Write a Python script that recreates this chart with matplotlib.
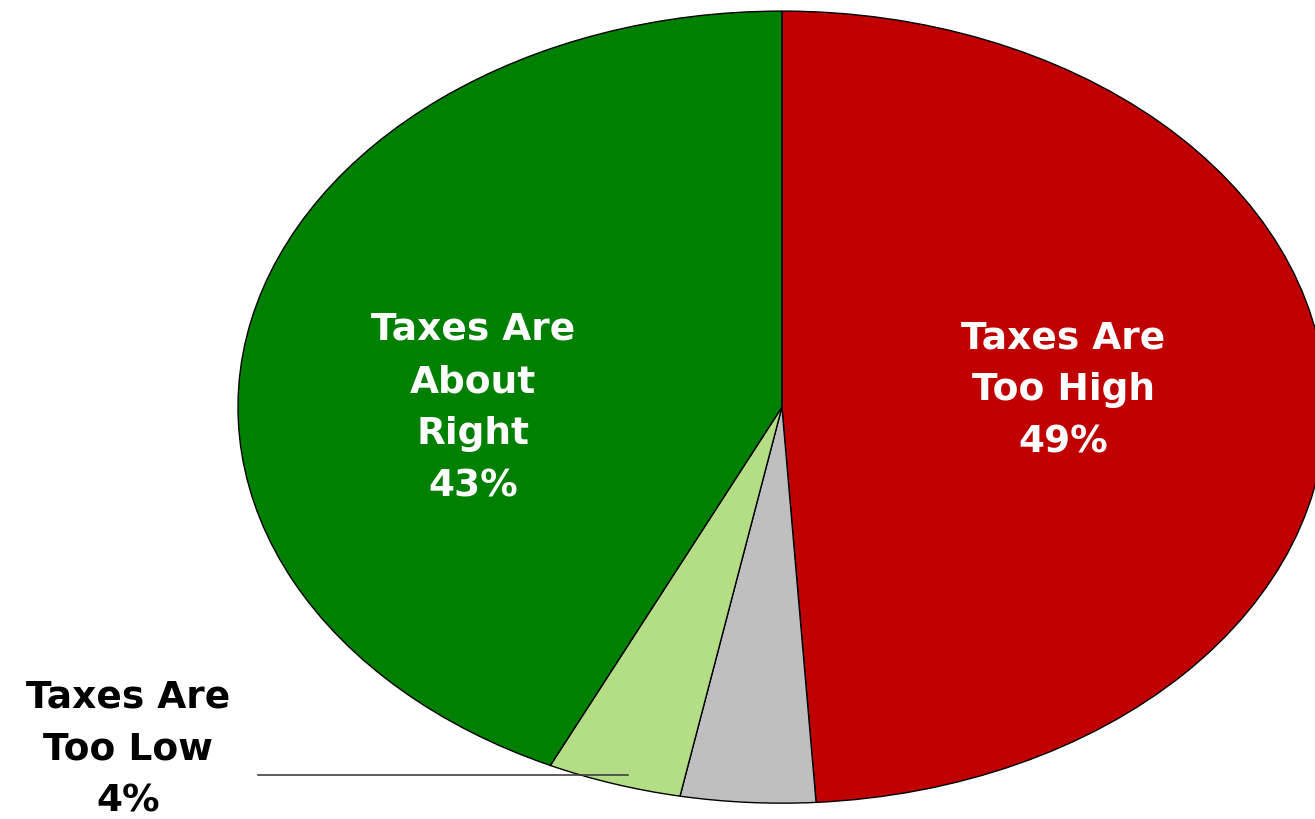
import matplotlib.pyplot as plt

# Survey shares, clockwise from 12 o'clock
labels = ['Taxes Are\nToo High', '', 'Taxes Are\nToo Low', 'Taxes Are\nAbout\nRight']
shares = [49, 4, 4, 43]
colors = ['#C00000', '#BFBFBF', '#B3DE85', '#008000']

fig = plt.figure(figsize=(13.15, 8.19), dpi=100)
ax = fig.add_axes([0, 0, 1, 1])

ax.pie(shares, colors=colors, startangle=90, counterclock=False,
       wedgeprops=dict(edgecolor='black', linewidth=1.0))

# stretch the pie into an ellipse and push it off the right edge
ax.set_aspect('auto')
ax.set_xlim(-1.4375, 0.98)
ax.set_ylim(-1.04, 1.028)
ax.axis('off')

font = dict(family='DejaVu Sans', weight='bold', size=27, ha='center', va='center',
            linespacing=1.58)

ax.text(0.517, 0.042, f'{labels[0]}\n{shares[0]}%', color='white', **font)
ax.text(-0.568, -0.003, f'{labels[3]}\n{shares[3]}%', color='white', **font)
ax.text(-1.202, -0.864, f'{labels[2]}\n{shares[2]}%', color='black', **font)

# leader line for the small slice
ax.plot([-0.963, -0.283], [-0.929, -0.929], color='#404040', linewidth=1.2)

fig.savefig('out.png', dpi=100)
